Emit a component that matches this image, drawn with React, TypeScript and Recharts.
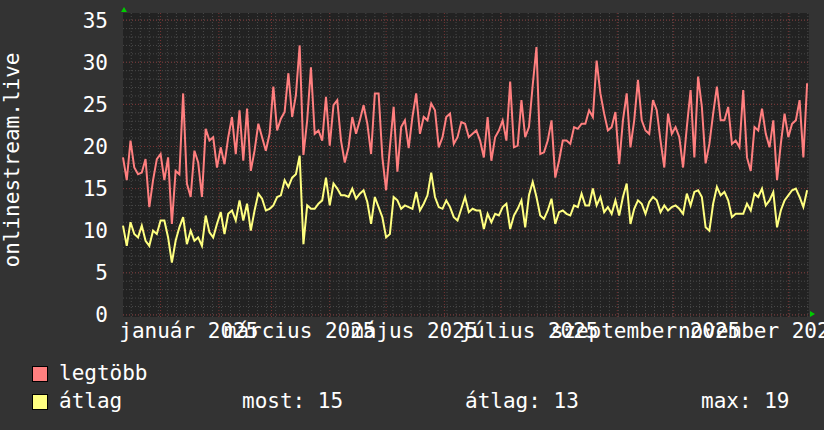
import { LineChart, Line, XAxis, YAxis, CartesianGrid } from "recharts";

// one sample every 2 days, day 0 = 2024-12-12
const days = Array.from({ length: 183 }, (_, i) => i * 2);

const legtobb = [
  18.7, 16.0, 20.7, 17.5, 16.7, 16.9, 18.5, 12.8, 16.0, 18.5,
  19.1, 16.0, 18.7, 10.8, 17.1, 16.7, 26.3, 15.6, 14.0, 19.5,
  18.1, 14.0, 22.1, 20.7, 21.1, 17.5, 19.9, 17.9, 21.1, 23.5,
  19.1, 24.3, 18.3, 24.5, 17.1, 19.5, 22.7, 21.1,
  19.5, 21.5, 27.1, 21.9, 23.3, 24.1, 28.7, 23.5, 26.1, 32.0,
  19.0, 23.1, 29.4, 21.5, 21.9, 20.7, 25.9, 20.1, 24.9, 25.5,
  20.7, 18.1, 19.9, 23.5, 21.5, 23.1, 24.9, 22.7, 19.1, 26.3,
  26.3, 18.7, 14.8, 19.9, 24.7, 17.0,
  22.3, 23.1, 19.8, 23.5, 26.3, 21.5, 23.5, 23.1, 25.1, 24.3,
  19.9, 21.1, 23.5, 23.9, 20.3, 21.1, 22.9, 22.7, 21.1, 21.5,
  21.9, 20.7, 18.7, 23.5, 18.3, 21.1, 21.9, 23.1, 20.7, 27.7,
  19.9, 20.1, 25.5, 21.1, 22.3, 27.3,
  31.8, 19.1, 19.3, 20.7, 23.1, 16.3, 18.3, 20.7, 20.7, 20.3,
  22.3, 22.1, 22.7, 22.7, 24.3, 23.5, 30.2, 26.3, 23.9, 21.9,
  22.3, 24.1, 17.9, 23.1, 26.3, 19.9, 23.1, 27.9, 23.1, 21.9,
  21.5, 25.5, 24.3, 20.7, 17.5, 23.9,
  21.5, 22.3, 21.1, 17.5, 22.3, 26.7, 18.7, 28.3, 24.7, 18.0,
  20.3, 23.9, 27.1, 23.1, 23.1, 24.7, 20.3, 20.7, 19.9, 26.7,
  18.7, 17.1, 22.3, 21.9, 24.5, 21.5, 19.9, 23.1, 16.0, 20.3,
  23.9, 21.1, 22.7, 23.1, 25.5, 18.7, 27.5,
];

const atlag = [
  10.6, 8.2, 11.0, 9.6, 9.2, 10.6, 8.8, 8.2, 10.0, 9.6,
  11.2, 11.2, 9.2, 6.2, 8.8, 10.4, 11.6, 8.4, 10.0, 8.8,
  9.2, 8.2, 11.8, 9.8, 9.2, 10.8, 12.2, 9.6, 12.0, 12.4,
  11.2, 13.6, 11.2, 13.2, 10.0, 12.4, 14.4, 13.8,
  12.4, 12.6, 13.0, 14.0, 14.2, 16.0, 15.2, 16.3, 16.7, 18.9,
  8.4, 13.0, 12.6, 12.6, 13.2, 13.6, 16.3, 13.0, 15.6, 15.0,
  14.2, 14.2, 14.0, 15.0, 13.8, 14.4, 14.8, 13.4, 10.8, 14.0,
  12.8, 11.6, 9.2, 9.6, 14.0, 13.6,
  12.6, 13.0, 12.8, 12.6, 14.6, 12.4, 13.2, 14.2, 16.9, 14.0,
  12.8, 12.6, 13.6, 12.8, 11.6, 11.2, 12.6, 14.0, 12.2, 12.6,
  12.4, 12.4, 10.2, 12.0, 11.0, 12.0, 11.8, 12.8, 13.2, 10.2,
  11.8, 12.6, 13.6, 10.4, 14.2, 15.8,
  14.0, 11.8, 11.4, 12.4, 13.8, 10.8, 12.2, 12.4, 12.0, 11.8,
  13.0, 12.8, 14.4, 13.0, 13.0, 15.0, 13.0, 14.0, 12.2, 12.8,
  12.0, 13.6, 11.8, 14.0, 15.6, 10.8, 12.6, 13.6, 13.2, 12.0,
  13.4, 14.0, 13.6, 12.2, 13.0, 12.4,
  12.8, 13.0, 12.6, 12.0, 14.4, 13.0, 14.6, 14.8, 14.0, 10.4,
  10.0, 13.2, 15.2, 14.2, 14.6, 13.6, 11.6, 12.0, 12.0, 12.0,
  13.2, 12.4, 14.4, 14.0, 15.0, 13.0, 13.6, 14.6, 10.4, 12.4,
  13.6, 14.2, 14.8, 15.0, 14.0, 12.8, 14.8,
];

// month labels sit mid-month, month grid lines on the 1st
const labelDays = [35, 94, 155, 216, 278, 339];
const labelTexts = [
  "január 2025",
  "március 2025",
  "május 2025",
  "július 2025",
  "szeptember 2025",
  "november 2025",
];
const monthStarts = [20, 51, 79, 110, 140, 171, 201, 232, 263, 293, 324, 354];
const yTicks = [0, 5, 10, 15, 20, 25, 30, 35];

const legendStats = ["most: 15", "átlag: 13", "max: 19"];

const data = days.map((d, i) => ({ day: d, max: legtobb[i], avg: atlag[i] }));

const FONT = "'DejaVu Sans Mono', monospace";
const minorY = Array.from({ length: 36 }, (_, i) => i);
const minorX = Array.from({ length: 76 }, (_, i) => 4.4 + i * 4.8);

const App = () => {
  return (
    <div
      style={{
        position: "fixed",
        left: 0,
        top: 0,
        width: 824,
        height: 430,
        background: "#333333",
        fontFamily: FONT,
        color: "#ffffff",
      }}
    >
      <LineChart
        width={824}
        height={430}
        data={data}
        margin={{ top: 13, right: 15, bottom: 83, left: 0 }}
      >
        <CartesianGrid
          fill="#222222"
          stroke="#4a4a4a"
          strokeDasharray="1 2"
          horizontalValues={minorY}
          verticalValues={minorX}
        />
        <CartesianGrid
          stroke="#7a3434"
          strokeDasharray="1 2"
          horizontalValues={yTicks}
          verticalValues={monthStarts}
        />
        <XAxis
          dataKey="day"
          type="number"
          domain={[0, 365]}
          ticks={labelDays}
          interval={0}
          tickFormatter={(v) => labelTexts[labelDays.indexOf(v)]}
          axisLine={false}
          tickLine={false}
          tickSize={0}
          tickMargin={6}
          height={30}
          tick={{ fill: "#ffffff", fontSize: 21, fontFamily: FONT }}
        />
        <YAxis
          type="number"
          domain={[-0.25, 35.85]}
          ticks={yTicks}
          interval={0}
          axisLine={false}
          tickLine={false}
          tickSize={0}
          tickMargin={15}
          width={123}
          tick={{ fill: "#ffffff", fontSize: 21, fontFamily: FONT }}
        />
        <Line
          type="linear"
          dataKey="max"
          stroke="#ff7f7f"
          strokeWidth={2}
          dot={false}
          isAnimationActive={false}
        />
        <Line
          type="linear"
          dataKey="avg"
          stroke="#ffff80"
          strokeWidth={2}
          dot={false}
          isAnimationActive={false}
        />
      </LineChart>

      {/* axis arrows */}
      <div
        style={{
          position: "absolute",
          left: 121,
          top: 7,
          width: 0,
          height: 0,
          borderLeft: "3px solid transparent",
          borderRight: "3px solid transparent",
          borderBottom: "5px solid #00cc00",
        }}
      />
      <div
        style={{
          position: "absolute",
          left: 810,
          top: 311,
          width: 0,
          height: 0,
          borderTop: "3px solid transparent",
          borderBottom: "3px solid transparent",
          borderLeft: "5px solid #00cc00",
        }}
      />

      {/* vertical title */}
      <div
        style={{
          position: "absolute",
          left: 12,
          top: 160,
          fontSize: 21,
          whiteSpace: "nowrap",
          transform: "translate(-50%, -50%) rotate(-90deg)",
        }}
      >
        onlinestream.live
      </div>

      {/* legend */}
      <div style={{ position: "absolute", left: 32, top: 366, width: 14, height: 14, background: "#ff7f7f", border: "1px solid #000" }} />
      <div style={{ position: "absolute", left: 59, top: 361, fontSize: 21, lineHeight: "24px" }}>legtöbb</div>
      <div style={{ position: "absolute", left: 32, top: 394, width: 14, height: 14, background: "#ffff80", border: "1px solid #000" }} />
      <div style={{ position: "absolute", left: 59, top: 389, fontSize: 21, lineHeight: "24px" }}>átlag</div>
      <div style={{ position: "absolute", left: 242, top: 389, fontSize: 21, lineHeight: "24px" }}>{legendStats[0]}</div>
      <div style={{ position: "absolute", left: 465, top: 389, fontSize: 21, lineHeight: "24px" }}>{legendStats[1]}</div>
      <div style={{ position: "absolute", left: 701, top: 389, fontSize: 21, lineHeight: "24px" }}>{legendStats[2]}</div>
    </div>
  );
};

export default App;
